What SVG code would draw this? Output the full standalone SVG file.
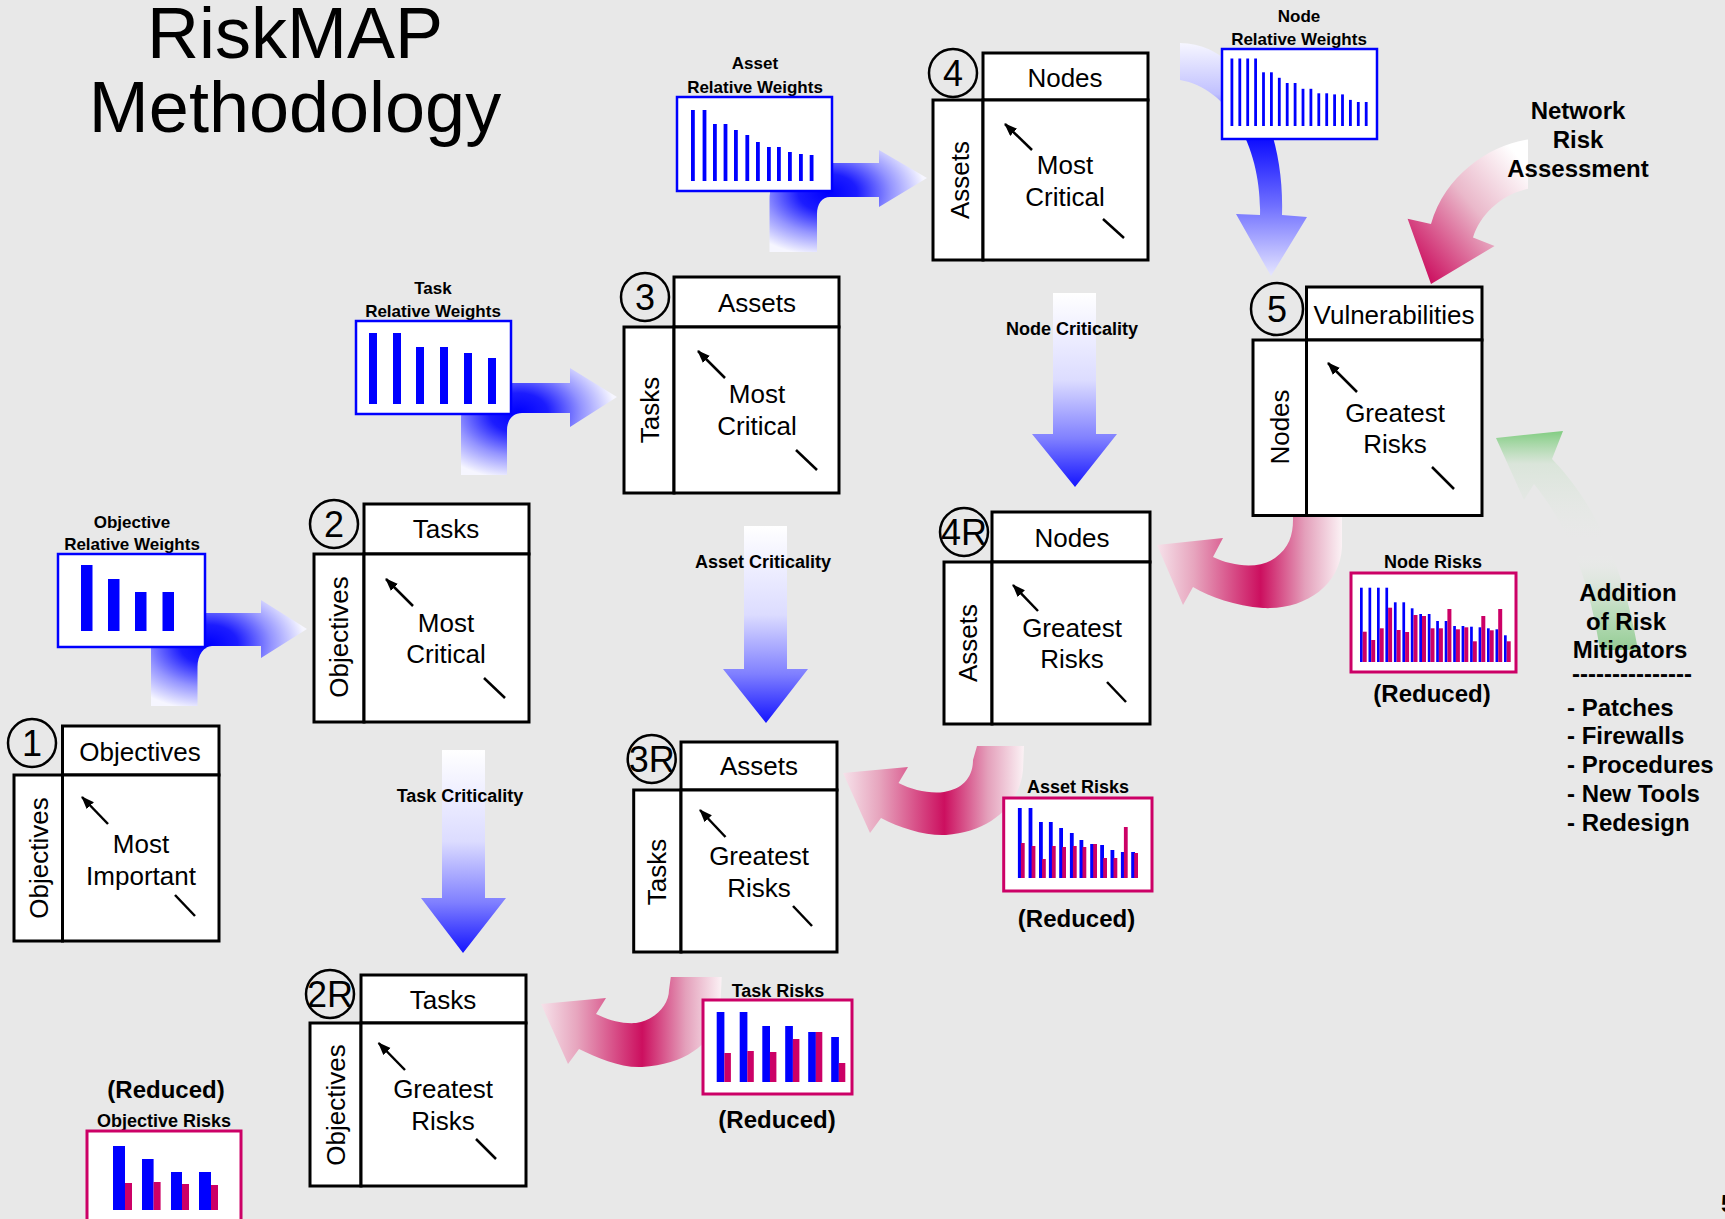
<svg xmlns="http://www.w3.org/2000/svg" width="1725" height="1219" viewBox="0 0 1725 1219">
<defs>
<style>
text{font-family:"Liberation Sans",Arial,sans-serif;fill:#000}
.t26{font-size:26px;text-anchor:middle}
.num{font-size:36px;text-anchor:middle}
.b18{font-size:18px;font-weight:bold;text-anchor:middle}
.b17{font-size:17px;font-weight:bold;text-anchor:middle}
.b24{font-size:24px;font-weight:bold;text-anchor:middle}
.bl24{font-size:24px;font-weight:bold}
.title{font-size:72px;text-anchor:middle}
.box{fill:#fff;stroke:#000;stroke-width:3}
.circ{fill:none;stroke:#000;stroke-width:2.5}
.ln{stroke:#000;stroke-width:2.5;fill:none}
.wbox{fill:#fff;stroke:#0000ff;stroke-width:2.5}
.rbox{fill:#fff;stroke:#cc0066;stroke-width:3}
.bb{fill:#0000ff}
.pb{fill:#cc0066}
</style>
<marker id="ah" markerUnits="userSpaceOnUse" markerWidth="14" markerHeight="12" refX="12" refY="5" orient="auto">
<path d="M0,0 L13,5 L0,10 z" fill="#000"/>
</marker>
<linearGradient id="gV" x1="0" y1="0" x2="0" y2="1">
<stop offset="0" stop-color="#ffffff"/><stop offset="0.45" stop-color="#dcdcff"/><stop offset="0.75" stop-color="#8080ff"/><stop offset="1" stop-color="#1414ff"/>
</linearGradient>
<radialGradient id="gL" cx="0.37" cy="0.42" r="0.62">
<stop offset="0" stop-color="#0000ff"/><stop offset="0.3" stop-color="#1c1cff"/><stop offset="0.65" stop-color="#9494ff"/><stop offset="1" stop-color="#f6f6ff"/>
</radialGradient>
<linearGradient id="gN" x1="0" y1="0" x2="0" y2="1">
<stop offset="0" stop-color="#f6f6ff"/><stop offset="0.22" stop-color="#c0c0ff"/><stop offset="0.42" stop-color="#1010ff"/><stop offset="0.7" stop-color="#7070ff"/><stop offset="1" stop-color="#e6e6ff"/>
</linearGradient>
<linearGradient id="gU" x1="0" y1="0" x2="1" y2="0">
<stop offset="0" stop-color="#f6e2ea"/><stop offset="0.2" stop-color="#e7a5be"/><stop offset="0.56" stop-color="#cc0f5f"/><stop offset="0.8" stop-color="#e4a0bb"/><stop offset="1" stop-color="#fbf2f5"/>
</linearGradient>
<linearGradient id="gNR" x1="1" y1="0.2" x2="0.2" y2="1">
<stop offset="0" stop-color="#ffffff"/><stop offset="0.45" stop-color="#eab8ca"/><stop offset="1" stop-color="#cc1060"/>
</linearGradient>
<linearGradient id="gG" gradientUnits="userSpaceOnUse" x1="0" y1="431" x2="0" y2="650">
<stop offset="0" stop-color="#3cba3c" stop-opacity="0.6"/><stop offset="0.15" stop-color="#5cc85c" stop-opacity="0.1"/><stop offset="0.55" stop-color="#ffffff" stop-opacity="0"/><stop offset="0.8" stop-color="#50c050" stop-opacity="0.25"/><stop offset="1" stop-color="#40b040" stop-opacity="0.5"/>
</linearGradient>
</defs>
<rect x="0" y="0" width="1725" height="1219" fill="#e8e8e8"/>

<g id="connectors">
<path d="M151,706 L151,650 C151,628 168,613 192,613 L261,613 L261,600 L307,629 L261,658 L261,646 L212,646 C204,646 197.5,655 197.5,667 L197.5,706 Z" fill="url(#gL)"/>
<path d="M461,475 L461,420 C461,398 478,383 500,383 L570,383 L570,368 L617,397 L570,427 L570,413 L522,413 C513,413 507,420 507,430 L507,475 Z" fill="url(#gL)"/>
<path d="M769.5,252 L769.5,200 C769.5,178 786,163 808,163 L879,163 L879,150 L927,178 L879,207 L879,197 L830,197 C822,197 817,204 817,214 L817,252 Z" fill="url(#gL)"/>
<path d="M1180,43 C1240,43 1285,120 1282,215 L1307,217 L1271,276 L1236,214 L1260,215 C1262,150 1230,88 1180,80 Z" fill="url(#gN)"/>
<path d="M442,750 L485,750 L485,898 L506,898 L463,953 L421,898 L442,898 Z" fill="url(#gV)"/>
<path d="M744,526 L787,526 L787,669 L808,669 L766,723 L723,669 L744,669 Z" fill="url(#gV)"/>
<path d="M1053,293 L1096,293 L1096,434 L1117,434 L1075,487 L1032,434 L1053,434 Z" fill="url(#gV)"/>
<path d="M1528,139.5 C1490,145 1445,175 1431,224 L1407.6,218.7 L1431,284 L1494.6,246 L1473,237.6 C1480,215 1500,195 1528,188.7 Z" fill="url(#gNR)"/>
<path d="M1293,505 L1342,505 L1342,547 C1340,588 1302,610 1263,608 C1235,606 1210,597 1193,587 L1183,605 L1157,545 L1223,538 L1213,557 C1232,566 1258,570 1275,558 C1289,548 1293,535 1293,520 Z" fill="url(#gU)"/>
<path d="M977,746 L1024,746 L1023,770 C1020,805 990,832 946,835 C925,836 900,828 881,818 L870,833 L843,773 L908,767 L898.5,783 C912,790 930,794 944,792 C962,789 973,778 973,760 Z" fill="url(#gU)"/>
<path d="M670.8,977 L721.7,977 L720.5,1003 C718,1040 690,1064 642,1067 C620,1068 598,1058 579,1049 L568,1064 L541,1004 L606,998 L596,1014 C608,1020 622,1024 636,1023 C655,1020 669,1005 669,990 Z" fill="url(#gU)"/>
<path d="M1552,459 L1563,431 L1496,438 L1524,500 L1534,484 C1563,520 1588,570 1600,650 L1638,650 C1625,572 1597,505 1552,459 Z" fill="url(#gG)"/>
</g>

<g id="title">
<text class="title" x="295" y="58">RiskMAP</text>
<text class="title" x="295" y="132">Methodology</text>
</g>

<g id="chart-objective-weights">
<text class="b17" x="132" y="528">Objective</text>
<text class="b17" x="132" y="550">Relative Weights</text>
<rect class="wbox" x="58" y="554" width="147" height="93"/>
<rect class="bb" x="81" y="565" width="11.5" height="66"/>
<rect class="bb" x="108" y="579" width="11.5" height="52"/>
<rect class="bb" x="135" y="592" width="11.5" height="39"/>
<rect class="bb" x="162.5" y="592" width="11.5" height="39"/>
</g>

<g id="chart-task-weights">
<text class="b17" x="433" y="294">Task</text>
<text class="b17" x="433" y="317">Relative Weights</text>
<rect class="wbox" x="356" y="321" width="155" height="93"/>
<rect class="bb" x="369" y="333" width="8" height="71"/>
<rect class="bb" x="393" y="333" width="8" height="71"/>
<rect class="bb" x="416" y="347" width="8" height="57"/>
<rect class="bb" x="440" y="347" width="8" height="57"/>
<rect class="bb" x="464" y="353" width="8" height="51"/>
<rect class="bb" x="488" y="358" width="8" height="46"/>
</g>

<g id="chart-asset-weights">
<text class="b17" x="755" y="69">Asset</text>
<text class="b17" x="755" y="93">Relative Weights</text>
<rect class="wbox" x="677" y="97" width="155" height="94"/>
<rect class="bb" x="691" y="110" width="3.8" height="71"/>
<rect class="bb" x="702.6" y="110" width="3.8" height="71"/>
<rect class="bb" x="713" y="124" width="3.8" height="57"/>
<rect class="bb" x="723.6" y="124" width="3.8" height="57"/>
<rect class="bb" x="734" y="130" width="3.8" height="51"/>
<rect class="bb" x="745.4" y="135" width="3.8" height="46"/>
<rect class="bb" x="756" y="142" width="3.8" height="39"/>
<rect class="bb" x="767" y="147" width="3.8" height="34"/>
<rect class="bb" x="777" y="147" width="3.8" height="34"/>
<rect class="bb" x="788" y="152" width="3.8" height="29"/>
<rect class="bb" x="799" y="154" width="3.8" height="27"/>
<rect class="bb" x="809.7" y="155" width="3.8" height="26"/>
</g>

<g id="chart-node-weights">
<text class="b17" x="1299" y="22">Node</text>
<text class="b17" x="1299" y="45">Relative Weights</text>
<rect class="wbox" x="1222" y="49" width="155" height="90"/>
<rect class="bb" x="1230.5" y="58.5" width="2.8" height="67.5"/>
<rect class="bb" x="1238.4" y="58.5" width="2.8" height="67.5"/>
<rect class="bb" x="1246.3" y="58.5" width="2.8" height="67.5"/>
<rect class="bb" x="1254.2" y="58.5" width="2.8" height="67.5"/>
<rect class="bb" x="1262.1" y="72.3" width="2.8" height="53.7"/>
<rect class="bb" x="1270" y="72.3" width="2.8" height="53.7"/>
<rect class="bb" x="1277.9" y="77.8" width="2.8" height="48.2"/>
<rect class="bb" x="1285.8" y="83" width="2.8" height="43"/>
<rect class="bb" x="1293.7" y="83" width="2.8" height="43"/>
<rect class="bb" x="1301.6" y="88.8" width="2.8" height="37.2"/>
<rect class="bb" x="1309.5" y="88.8" width="2.8" height="37.2"/>
<rect class="bb" x="1317.4" y="93.3" width="2.8" height="32.7"/>
<rect class="bb" x="1325.3" y="93.3" width="2.8" height="32.7"/>
<rect class="bb" x="1333.2" y="94.4" width="2.8" height="31.6"/>
<rect class="bb" x="1341.1" y="94.4" width="2.8" height="31.6"/>
<rect class="bb" x="1349" y="99.9" width="2.8" height="26.1"/>
<rect class="bb" x="1356.9" y="102" width="2.8" height="24"/>
<rect class="bb" x="1364.8" y="102" width="2.8" height="24"/>
</g>

<g id="chart-node-risks">
<text class="b18" x="1433" y="568">Node Risks</text>
<rect class="rbox" x="1351" y="573" width="165" height="99"/>
<g class="bb">
<rect x="1360" y="587.7" width="2.7" height="74.3"/><rect x="1368.5" y="587.7" width="2.7" height="74.3"/><rect x="1377" y="587.7" width="2.7" height="74.3"/><rect x="1385.4" y="587.7" width="2.7" height="74.3"/>
<rect x="1393.9" y="602.3" width="2.7" height="59.7"/><rect x="1402.4" y="602.3" width="2.7" height="59.7"/><rect x="1410.8" y="608.3" width="2.7" height="53.7"/><rect x="1419.3" y="614" width="2.7" height="48"/>
<rect x="1427.8" y="614" width="2.7" height="48"/><rect x="1436.2" y="621" width="2.7" height="41"/><rect x="1444.7" y="621" width="2.7" height="41"/><rect x="1453.2" y="626" width="2.7" height="36"/>
<rect x="1461.6" y="626" width="2.7" height="36"/><rect x="1470.1" y="626.7" width="2.7" height="35.3"/><rect x="1478.6" y="627.3" width="2.7" height="34.7"/><rect x="1487" y="628.3" width="2.7" height="33.7"/>
<rect x="1495.5" y="629.3" width="2.7" height="32.7"/><rect x="1504" y="635.3" width="2.7" height="26.7"/>
</g>
<g class="pb">
<rect x="1362.7" y="631.7" width="4" height="30.3"/><rect x="1371.2" y="640" width="4" height="22"/><rect x="1379.7" y="628.3" width="4" height="33.7"/><rect x="1388.1" y="607.7" width="4" height="54.3"/>
<rect x="1396.6" y="630" width="4" height="32"/><rect x="1405.1" y="632" width="4" height="30"/><rect x="1413.5" y="615" width="4" height="47"/><rect x="1422" y="616" width="4" height="46"/>
<rect x="1430.5" y="628.3" width="4" height="33.7"/><rect x="1438.9" y="628.3" width="4" height="33.7"/><rect x="1447.4" y="609" width="4" height="53"/><rect x="1455.9" y="629.3" width="4" height="32.7"/>
<rect x="1464.3" y="627.3" width="4" height="34.7"/><rect x="1472.8" y="641.3" width="4" height="20.7"/><rect x="1481.3" y="616" width="4" height="46"/><rect x="1489.7" y="630.3" width="4" height="31.7"/>
<rect x="1498.2" y="609" width="4" height="53"/><rect x="1506.7" y="641.3" width="4" height="20.7"/>
</g>
<text class="b24" x="1432" y="702">(Reduced)</text>
</g>

<g id="chart-asset-risks">
<text class="b18" x="1078" y="793">Asset Risks</text>
<rect class="rbox" x="1003.7" y="798" width="148.3" height="93"/>
<g class="bb">
<rect x="1017.9" y="808" width="3.8" height="70"/><rect x="1028.6" y="808" width="3.8" height="70"/><rect x="1039" y="822" width="3.8" height="56"/><rect x="1048.9" y="822" width="3.8" height="56"/>
<rect x="1059.2" y="828" width="3.8" height="50"/><rect x="1069.9" y="833" width="3.8" height="45"/><rect x="1079.5" y="840" width="3.8" height="38"/><rect x="1090.2" y="844" width="3.8" height="34"/>
<rect x="1100.2" y="845" width="3.8" height="33"/><rect x="1110.5" y="850" width="3.8" height="28"/><rect x="1120.9" y="852" width="3.8" height="26"/><rect x="1131.2" y="852" width="3.8" height="26"/>
</g>
<g class="pb">
<rect x="1020.9" y="843" width="3.8" height="35"/><rect x="1031.6" y="846" width="3.8" height="32"/><rect x="1042" y="859" width="3.8" height="19"/><rect x="1051.9" y="846" width="3.8" height="32"/>
<rect x="1062.2" y="847" width="3.8" height="31"/><rect x="1072.9" y="846" width="3.8" height="32"/><rect x="1082.5" y="847" width="3.8" height="31"/><rect x="1093.2" y="844" width="3.8" height="34"/>
<rect x="1103.2" y="858" width="3.8" height="20"/><rect x="1113.5" y="858" width="3.8" height="20"/><rect x="1123.9" y="827" width="3.8" height="51"/><rect x="1134.2" y="853" width="3.8" height="25"/>
</g>
<text class="b24" x="1076.5" y="927">(Reduced)</text>
</g>

<g id="chart-task-risks">
<text class="b18" x="778" y="997">Task Risks</text>
<rect class="rbox" x="703" y="1000" width="149" height="94"/>
<g class="bb">
<rect x="716.7" y="1012" width="7.7" height="70"/><rect x="739.7" y="1012" width="7.7" height="70"/><rect x="762.3" y="1026" width="7.7" height="56"/>
<rect x="785.2" y="1026" width="7.7" height="56"/><rect x="808.2" y="1032" width="7.7" height="50"/><rect x="831.2" y="1037" width="7.7" height="45"/>
</g>
<g class="pb">
<rect x="724.4" y="1053" width="6.5" height="29"/><rect x="747.3" y="1051" width="6.5" height="31"/><rect x="769.9" y="1052" width="6.5" height="30"/>
<rect x="792.9" y="1039" width="6.5" height="43"/><rect x="815.8" y="1032" width="6.5" height="50"/><rect x="838.8" y="1063" width="6.5" height="19"/>
</g>
<text class="b24" x="777" y="1128">(Reduced)</text>
</g>

<g id="chart-objective-risks">
<text class="b24" x="166" y="1098">(Reduced)</text>
<text class="b18" x="164" y="1127">Objective Risks</text>
<rect class="rbox" x="87" y="1131" width="154" height="100"/>
<g class="bb">
<rect x="113" y="1146" width="12" height="64"/><rect x="142" y="1159" width="11.6" height="51"/><rect x="171" y="1172" width="11" height="38"/><rect x="199" y="1172" width="12" height="38"/>
</g>
<g class="pb">
<rect x="125" y="1183" width="7" height="27"/><rect x="153.6" y="1182" width="7" height="28"/><rect x="182" y="1184" width="7" height="26"/><rect x="211" y="1185" width="7" height="25"/>
</g>
</g>

<g id="node-1">
<rect class="box" x="62.5" y="726" width="156.5" height="49"/>
<rect class="box" x="14" y="775" width="48.5" height="166"/>
<rect class="box" x="62.5" y="775" width="156.5" height="166"/>
<circle class="circ" cx="32" cy="743" r="24"/>
<text class="num" x="32" y="756">1</text>
<text class="t26" x="140" y="761">Objectives</text>
<text class="t26" transform="translate(39,858) rotate(-90)" dy="0.36em">Objectives</text>
<line class="ln" x1="108" y1="824" x2="82" y2="797" marker-end="url(#ah)"/>
<line class="ln" x1="175" y1="895" x2="195" y2="916"/>
<text class="t26" x="141" y="853">Most</text>
<text class="t26" x="141" y="885">Important</text>
</g>

<g id="node-2">
<rect class="box" x="364" y="504" width="165" height="50"/>
<rect class="box" x="314" y="554" width="50" height="168"/>
<rect class="box" x="364" y="554" width="165" height="168"/>
<circle class="circ" cx="334" cy="524" r="24"/>
<text class="num" x="334" y="537">2</text>
<text class="t26" x="446" y="538">Tasks</text>
<text class="t26" transform="translate(339,637) rotate(-90)" dy="0.36em">Objectives</text>
<line class="ln" x1="413" y1="606" x2="386" y2="579" marker-end="url(#ah)"/>
<line class="ln" x1="484" y1="678" x2="505" y2="698"/>
<text class="t26" x="446" y="632">Most</text>
<text class="t26" x="446" y="663">Critical</text>
</g>

<g id="node-3">
<rect class="box" x="674" y="277" width="165" height="50"/>
<rect class="box" x="624" y="327" width="50" height="166"/>
<rect class="box" x="674" y="327" width="165" height="166"/>
<circle class="circ" cx="645" cy="297" r="24"/>
<text class="num" x="645" y="310">3</text>
<text class="t26" x="757" y="312">Assets</text>
<text class="t26" transform="translate(650,410) rotate(-90)" dy="0.36em">Tasks</text>
<line class="ln" x1="725" y1="378" x2="698" y2="351" marker-end="url(#ah)"/>
<line class="ln" x1="796" y1="450" x2="817" y2="470"/>
<text class="t26" x="757" y="403">Most</text>
<text class="t26" x="757" y="435">Critical</text>
</g>

<g id="node-4">
<rect class="box" x="983" y="53" width="165" height="47"/>
<rect class="box" x="933" y="100" width="50" height="160"/>
<rect class="box" x="983" y="100" width="165" height="160"/>
<circle class="circ" cx="953" cy="73" r="24"/>
<text class="num" x="953" y="86">4</text>
<text class="t26" x="1065" y="87">Nodes</text>
<text class="t26" transform="translate(960,180) rotate(-90)" dy="0.36em">Assets</text>
<line class="ln" x1="1032" y1="150" x2="1005" y2="124" marker-end="url(#ah)"/>
<line class="ln" x1="1103" y1="219" x2="1124" y2="238"/>
<text class="t26" x="1065" y="174">Most</text>
<text class="t26" x="1065" y="206">Critical</text>
</g>

<g id="node-5">
<rect class="box" x="1306.5" y="287" width="175.5" height="53"/>
<rect class="box" x="1253" y="340" width="53.5" height="175.5"/>
<rect class="box" x="1306.5" y="340" width="175.5" height="175.5"/>
<circle class="circ" cx="1277" cy="309" r="26"/>
<text class="num" x="1277" y="322">5</text>
<text class="t26" x="1394" y="324">Vulnerabilities</text>
<text class="t26" transform="translate(1280,427) rotate(-90)" dy="0.36em">Nodes</text>
<line class="ln" x1="1357" y1="392" x2="1328" y2="363" marker-end="url(#ah)"/>
<line class="ln" x1="1432" y1="467" x2="1454" y2="489"/>
<text class="t26" x="1395" y="422">Greatest</text>
<text class="t26" x="1395" y="453">Risks</text>
</g>

<g id="node-4R">
<rect class="box" x="992" y="512" width="158" height="50"/>
<rect class="box" x="944" y="562" width="48" height="162"/>
<rect class="box" x="992" y="562" width="158" height="162"/>
<circle class="circ" cx="964" cy="532" r="24"/>
<text class="num" x="964" y="545">4R</text>
<text class="t26" x="1072" y="547">Nodes</text>
<text class="t26" transform="translate(968,643) rotate(-90)" dy="0.36em">Assets</text>
<line class="ln" x1="1038" y1="611" x2="1013" y2="585" marker-end="url(#ah)"/>
<line class="ln" x1="1107" y1="682" x2="1126" y2="702"/>
<text class="t26" x="1072" y="637">Greatest</text>
<text class="t26" x="1072" y="668">Risks</text>
</g>

<g id="node-3R">
<rect class="box" x="681" y="742" width="156" height="48"/>
<rect class="box" x="633.7" y="790" width="47.3" height="162"/>
<rect class="box" x="681" y="790" width="156" height="162"/>
<circle class="circ" cx="651.7" cy="759" r="24"/>
<text class="num" x="651.7" y="772">3R</text>
<text class="t26" x="759" y="775">Assets</text>
<text class="t26" transform="translate(657,872) rotate(-90)" dy="0.36em">Tasks</text>
<line class="ln" x1="725.5" y1="837" x2="700" y2="810" marker-end="url(#ah)"/>
<line class="ln" x1="793" y1="906" x2="812" y2="926"/>
<text class="t26" x="759" y="865">Greatest</text>
<text class="t26" x="759" y="897">Risks</text>
</g>

<g id="node-2R">
<rect class="box" x="361" y="975" width="165" height="48"/>
<rect class="box" x="310" y="1023" width="51" height="163"/>
<rect class="box" x="361" y="1023" width="165" height="163"/>
<circle class="circ" cx="330" cy="994" r="24"/>
<text class="num" x="330" y="1007">2R</text>
<text class="t26" x="443" y="1009">Tasks</text>
<text class="t26" transform="translate(336,1105) rotate(-90)" dy="0.36em">Objectives</text>
<line class="ln" x1="405" y1="1070" x2="378.6" y2="1043" marker-end="url(#ah)"/>
<line class="ln" x1="476" y1="1139" x2="496" y2="1159"/>
<text class="t26" x="443" y="1098">Greatest</text>
<text class="t26" x="443" y="1130">Risks</text>
</g>

<g id="labels">
<text class="b18" x="460" y="802">Task Criticality</text>
<text class="b18" x="763" y="568">Asset Criticality</text>
<text class="b18" x="1072" y="335">Node Criticality</text>
<text class="b24" x="1578" y="119">Network</text>
<text class="b24" x="1578" y="148">Risk</text>
<text class="b24" x="1578" y="177">Assessment</text>
<text class="b24" x="1628" y="601">Addition</text>
<text class="b24" x="1626" y="630">of Risk</text>
<text class="b24" x="1630" y="658">Mitigators</text>
<text class="b24" x="1632" y="682">---------------</text>
<text class="bl24" x="1567" y="716">- Patches</text>
<text class="bl24" x="1567" y="744">- Firewalls</text>
<text class="bl24" x="1567" y="773">- Procedures</text>
<text class="bl24" x="1567" y="802">- New Tools</text>
<text class="bl24" x="1567" y="831">- Redesign</text>
<text class="bl24" x="1721" y="1212">5</text>
</g>
</svg>
